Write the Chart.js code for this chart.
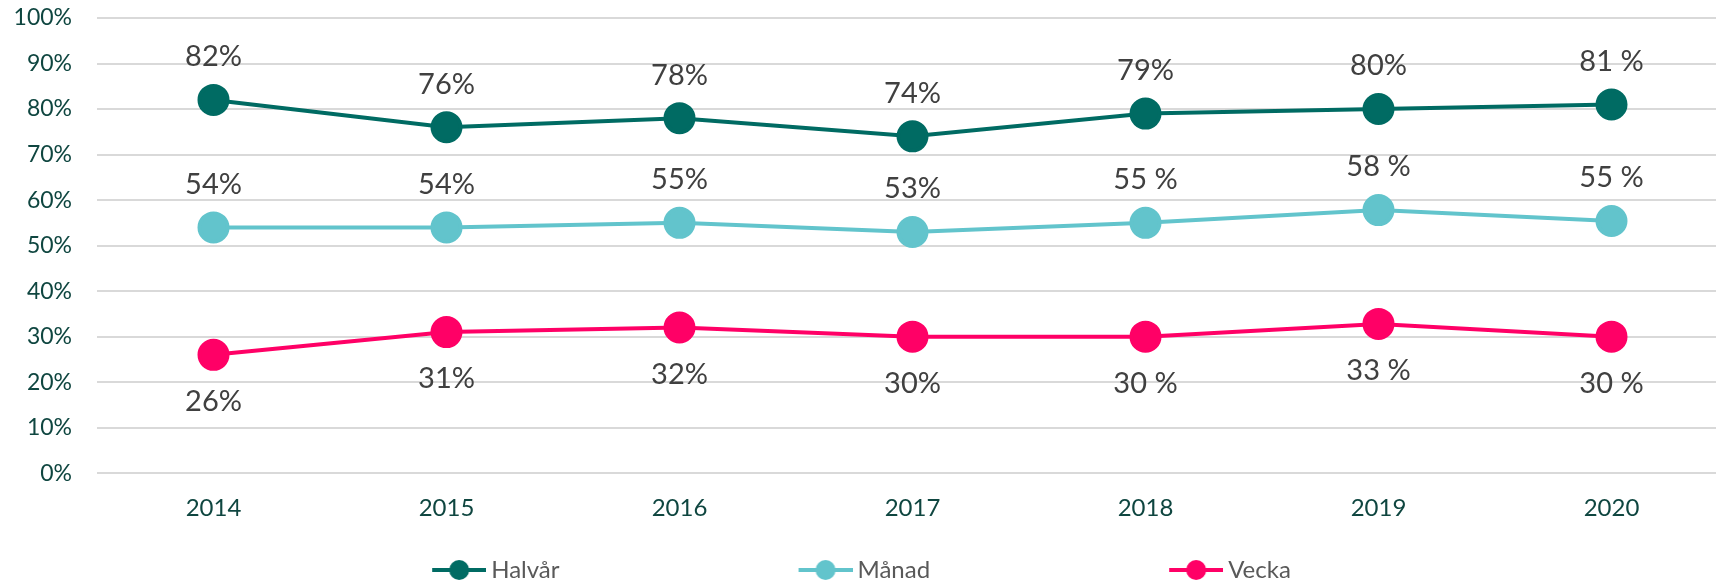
<!DOCTYPE html>
<html>
<head>
<meta charset="utf-8">
<script src="https://cdn.jsdelivr.net/npm/chart.js@4/dist/chart.umd.min.js"></script>
<style>
  html, body { margin: 0; padding: 0; background: #fff; overflow: hidden; }
  #wrap { width: 1716px; height: 585px; }
</style>
</head>
<body>
<div id="wrap"><canvas id="chart"></canvas></div>
<script>
// data
const years = ["2014", "2015", "2016", "2017", "2018", "2019", "2020"];
const halvar = [82, 76, 78, 74, 79, 80, 81];
const manad = [54, 54, 55, 53, 55, 57.8, 55.4];
const vecka = [26, 31, 32, 30, 30, 32.8, 30];
const halvarText = ["82%", "76%", "78%", "74%", "79%", "80%", "81 %"];
const manadText = ["54%", "54%", "55%", "53%", "55 %", "58 %", "55 %"];
const veckaText = ["26%", "31%", "32%", "30%", "30 %", "33 %", "30 %"];
const yTicks = [0, 10, 20, 30, 40, 50, 60, 70, 80, 90, 100];

const FONT = "Lato";
// mellanrum mellan legendposterna (em- och en-mellanslag)
const GAP = "\u2003".repeat(12) + "\u2002";

// liten bild: linje + cirkel för legenden (lite tom yta till vänster
// så att ikonen hamnar närmare texten)
function legendIcon(color) {
  const c = document.createElement("canvas");
  c.width = 68; c.height = 22;
  const g = c.getContext("2d");
  g.strokeStyle = color;
  g.lineWidth = 4;
  g.beginPath(); g.moveTo(14, 11); g.lineTo(68, 11); g.stroke();
  g.fillStyle = color;
  g.beginPath(); g.arc(41, 11, 10, 0, Math.PI * 2); g.fill();
  return c;
}

// etiketter ovanför/under punkterna
const pointLabels = {
  id: "pointLabels",
  afterDatasetsDraw(chart) {
    const ctx = chart.ctx;
    ctx.save();
    ctx.font = "29px " + FONT;
    ctx.fillStyle = "#404040";
    ctx.textAlign = "center";
    ctx.textBaseline = "middle";
    chart.data.datasets.forEach((ds, i) => {
      chart.getDatasetMeta(i).data.forEach((pt, j) => {
        const dy = ds.labelPos === "below" ? 47 : -43;
        ctx.fillText(ds.texts[j], pt.x, pt.y + dy);
      });
    });
    ctx.restore();
  }
};

// x-axeln går lite utanför högerkanten, som i originalet
const widenX = {
  id: "widenX",
  afterLayout(chart) {
    const s = chart.scales.x;
    s.right = chart.chartArea.right + 12;
    s.width = s.right - s.left;
    s.configure();
  }
};

function makeSet(label, data, texts, color, pos) {
  return {
    label: label,
    data: data,
    texts: texts,
    labelPos: pos,
    icon: legendIcon(color),
    borderColor: color,
    backgroundColor: color,
    pointBackgroundColor: color,
    pointBorderColor: color,
    borderWidth: 4,
    pointRadius: 14,
    pointHoverRadius: 14,
    pointStyle: "circle",
    tension: 0
  };
}

const datasets = [
  makeSet("Halvår", halvar, halvarText, "#006b63", "above"),
  makeSet("Månad", manad, manadText, "#62c4cc", "above"),
  makeSet("Vecka", vecka, veckaText, "#ff0066", "below")
];

new Chart(document.getElementById("chart"), {
  type: "line",
  data: { labels: years, datasets: datasets },
  plugins: [pointLabels, widenX],
  options: {
    responsive: true,
    maintainAspectRatio: false,
    animation: false,
    layout: { autoPadding: false, padding: { top: 18, right: 0, bottom: -7, left: 0 } },
    plugins: {
      tooltip: { enabled: false },
      legend: {
        position: "bottom",
        labels: {
          usePointStyle: true,
          pointStyleWidth: 54,
          padding: 4,
          color: "#595959",
          font: { family: FONT, size: 24 },
          generateLabels(chart) {
            const n = chart.data.datasets.length;
            return chart.data.datasets.map((d, i) => ({
              text: i < n - 1 ? d.label + GAP : d.label,
              pointStyle: d.icon,
              fillStyle: d.borderColor,
              strokeStyle: d.borderColor,
              lineWidth: 0,
              fontColor: "#595959",
              hidden: false,
              datasetIndex: i
            }));
          }
        }
      }
    },
    scales: {
      x: {
        offset: true,
        grid: { display: false },
        border: { display: false },
        ticks: { color: "#0f4640", padding: 13, font: { family: FONT, size: 24 } },
        afterFit(s) { s.height += 18; s.paddingLeft = 0; s.paddingRight = 0; }
      },
      y: {
        min: 0,
        max: 100,
        afterBuildTicks(s) { s.ticks = yTicks.map(v => ({ value: v })); },
        grid: { color: "#d9d9d9", lineWidth: 2, drawTicks: false },
        border: { display: false },
        ticks: {
          color: "#0f4640",
          padding: 25,
          font: { family: FONT, size: 23 },
          callback: v => v + "%"
        },
        afterFit(s) { s.width = 97; s.paddingTop = 0; s.paddingBottom = 0; }
      }
    }
  }
});
</script>
</body>
</html>
